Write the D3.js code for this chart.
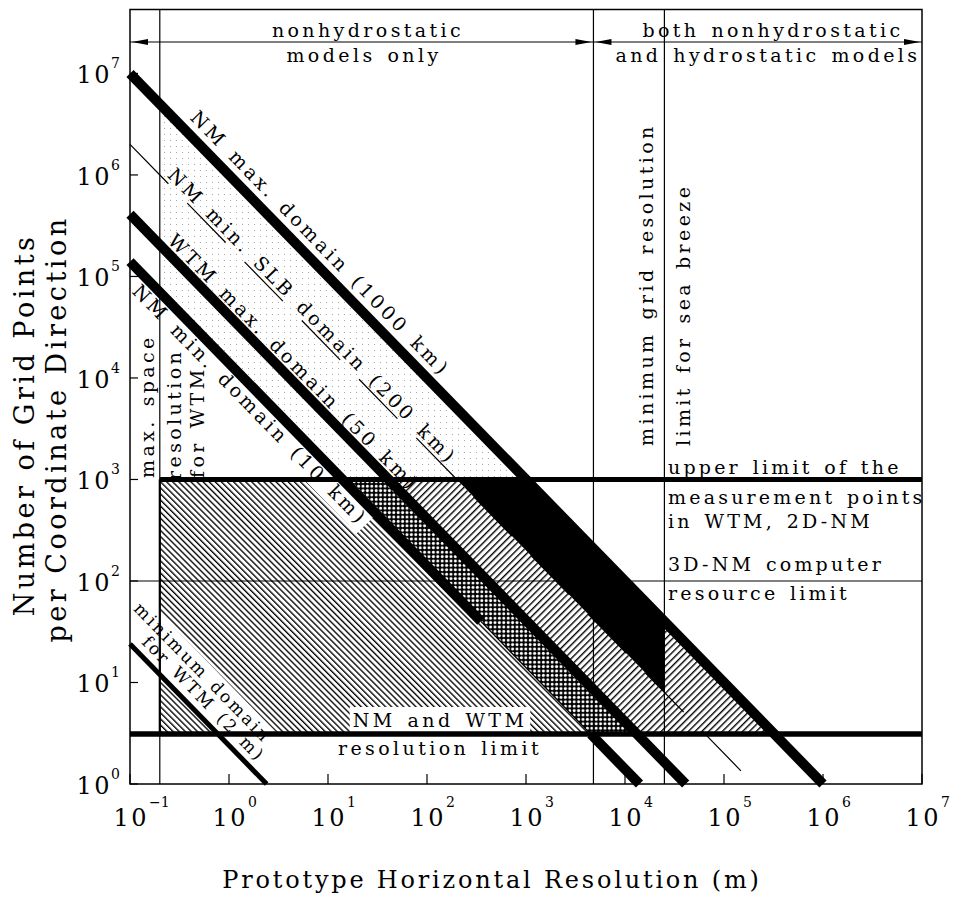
<!DOCTYPE html>
<html>
<head>
<meta charset="utf-8">
<script src="https://cdn.jsdelivr.net/npm/d3@7"></script>
<style>
    body { margin: 0; background: #fff; }
    svg text { font-family: "DejaVu Serif", serif; fill: #000; }
</style>
</head>
<body>
<div id="chart"></div>
<script>
// ---- values ----
const xExponents = [-1, 0, 1, 2, 3, 4, 5, 6, 7];
const yExponents = [0, 1, 2, 3, 4, 5, 6, 7];

// domain lines: N = L / dx  (L in metres)
const domainNames = ["WTM min", "NM min", "WTM max", "NM min SLB", "NM max"];
const domainSizes = [2.4, 1.4e4, 4.1e4, 2e5, 1e6];
const domainLabels = [
    ["minimum domain", "for WTM (2 m)"],
    ["NM min. domain (10 km)"],
    ["WTM max. domain (50 km)"],
    ["NM min. SLB domain (200 km)"],
    ["NM max. domain (1000 km)"]
];

// vertical limits (grid resolution, m)
const resolutionLimits = [0.2, 4.8e3, 2.5e4];
const resolutionLabels = [
    ["max. space", "resolution", "for WTM"],
    ["minimum grid resolution"],
    ["limit for sea breeze"]
];

// horizontal limits (grid points)
const pointLimits = [3.1, 100, 1000];
const pointLabels = [
    ["NM and WTM", "resolution limit"],
    ["3D-NM computer", "resource limit"],
    ["upper limit of the", "measurement points", "in WTM, 2D-NM"]
];

const regimeLabels = [
    ["nonhydrostatic", "models only"],
    ["both nonhydrostatic", "and hydrostatic models"]
];

// ---- setup ----
const width = 962, height = 898;
const x = d3.scaleLog().domain([0.1, 1e7]).range([130, 922]);
const y = d3.scaleLog().domain([1, Math.pow(10, 7.63)]).range([784, 9.5]);
const [plotLeft, plotRight] = x.range();
const [plotBottom, plotTop] = y.range();

const svg = d3.select("#chart").append("svg")
    .attr("width", width)
    .attr("height", height);
const defs = svg.append("defs");

// helpers: points on the N = L/dx lines
const pt = (dx, n) => [x(dx), y(n)];
const onLine = (i, dx) => pt(dx, domainSizes[i] / dx);
const atN = (i, n) => pt(domainSizes[i] / n, n);
// pixel angle of a slope -1 line
const ang = Math.atan2(y(1) - y(10), x(10) - x(1));
const angDeg = ang * 180 / Math.PI;

// ---- patterns ----
function hatch(id, size, angle, w) {
    const p = defs.append("pattern").attr("id", id)
        .attr("patternUnits", "userSpaceOnUse")
        .attr("width", size).attr("height", size)
        .attr("patternTransform", `rotate(${angle})`);
    p.append("rect").attr("width", size).attr("height", size).attr("fill", "#fff");
    p.append("rect").attr("width", w).attr("height", size).attr("fill", "#000");
}
hatch("back", 4.3, -45, 1.35);
hatch("fwd", 4.8, 45, 1.4);

const dots = defs.append("pattern").attr("id", "dots")
    .attr("patternUnits", "userSpaceOnUse").attr("width", 6).attr("height", 6);
dots.append("rect").attr("width", 6).attr("height", 6).attr("fill", "#fff");
dots.append("rect").attr("x", 2).attr("y", 2).attr("width", 1).attr("height", 1).attr("fill", "#a8a8a8");

const mesh = defs.append("pattern").attr("id", "mesh")
    .attr("patternUnits", "userSpaceOnUse").attr("width", 4.4).attr("height", 4.4);
mesh.append("rect").attr("width", 4.4).attr("height", 4.4).attr("fill", "#000");
mesh.append("circle").attr("cx", 2.2).attr("cy", 2.2).attr("r", 1.5).attr("fill", "#fff");

// ---- shaded regions ----
const [vMin, vGrid, vSea] = resolutionLimits;
const [nLow, nMid, nTop] = pointLimits;

const regions = [
    { fill: "url(#dots)", pts: [onLine(1, vMin), onLine(4, vMin), atN(4, nTop), atN(1, nTop)] },
    { fill: "url(#back)", pts: [pt(vMin, nTop), atN(1, nTop), atN(1, nLow), pt(vMin, nLow)] },
    { fill: "url(#mesh)", pts: [atN(1, nTop), atN(2, nTop), atN(2, nLow), atN(1, nLow)] },
    { fill: "url(#fwd)", pts: [atN(2, nTop), atN(3, nTop), onLine(3, vSea), onLine(4, vSea), atN(4, nLow), atN(2, nLow)] },
    { fill: "#000", pts: [atN(3, nTop), atN(4, nTop), onLine(4, vSea), onLine(3, vSea)] }
];

svg.append("g").selectAll("path")
    .data(regions)
    .join("path")
    .attr("d", d => d3.line()(d.pts) + "Z")
    .attr("fill", d => d.fill);

const bgLayer = svg.append("g");
const lineLayer = svg.append("g");
const textLayer = svg.append("g");

// ---- labels along the domain lines (layout: start log10(dx), perpendicular offset px) ----
const labelLayout = [
    [{ u: -1.16, d: 26 }, { u: -0.95, d: 8.5 }],
    [{ u: -0.84, d: -20.5 }],
    [{ u: -0.68, d: 7 }],
    [{ u: -0.66, d: 4 }],
    [{ u: -0.48, d: 11 }]
];
const labelBg = [true, true, false, false, false];

domainLabels.forEach((lines, i) => {
    lines.forEach((txt, j) => {
        const lay = labelLayout[i][j];
        const f = onLine(i, Math.pow(10, lay.u));
        const px = f[0] + lay.d * Math.sin(ang);
        const py = f[1] - lay.d * Math.cos(ang);
        const tr = `translate(${px},${py}) rotate(${angDeg})`;
        const t = textLayer.append("text")
            .attr("transform", tr)
            .attr("font-size", i === 0 ? 17 : 19)
            .style("letter-spacing", i === 0 ? "2.5px" : "3.4px")
            .style("word-spacing", "2.5px")
            .text(txt);
        if (labelBg[i]) {
            const b = t.node().getBBox();
            bgLayer.append("rect")
                .attr("transform", tr)
                .attr("x", b.x - 3).attr("y", b.y - 1)
                .attr("width", b.width + 6).attr("height", b.height + 4)
                .attr("fill", "#fff");
        }
    });
});

// "NM and WTM / resolution limit" with a white box behind the first line
const nmText = textLayer.append("text")
    .attr("x", 440).attr("y", 727)
    .attr("text-anchor", "middle")
    .attr("font-size", 19)
    .style("letter-spacing", "3.4px").style("word-spacing", "2.5px")
    .text(pointLabels[0][0]);
const nb = nmText.node().getBBox();
bgLayer.append("rect").attr("x", nb.x - 3).attr("y", nb.y - 2)
    .attr("width", nb.width + 6).attr("height", nb.height + 4).attr("fill", "#fff");
textLayer.append("text")
    .attr("x", 440).attr("y", 755)
    .attr("text-anchor", "middle")
    .attr("font-size", 19)
    .style("letter-spacing", "3.4px").style("word-spacing", "2.5px")
    .text(pointLabels[0][1]);

// ---- limit lines ----
lineLayer.selectAll("line.vlim")
    .data(resolutionLimits)
    .join("line")
    .attr("class", "vlim")
    .attr("x1", d => x(d)).attr("x2", d => x(d))
    .attr("y1", plotTop).attr("y2", plotBottom)
    .attr("stroke", "#000").attr("stroke-width", 1.2);
// border of the hatched area at 0.2 m
lineLayer.append("line")
    .attr("x1", x(vMin)).attr("x2", x(vMin))
    .attr("y1", y(nTop)).attr("y2", y(nLow))
    .attr("stroke", "#000").attr("stroke-width", 2.2);

lineLayer.append("line")
    .attr("x1", plotLeft).attr("x2", plotRight)
    .attr("y1", y(nMid)).attr("y2", y(nMid))
    .attr("stroke", "#000").attr("stroke-width", 1.2);
lineLayer.append("line")
    .attr("x1", x(vMin)).attr("x2", plotRight)
    .attr("y1", y(nTop)).attr("y2", y(nTop))
    .attr("stroke", "#000").attr("stroke-width", 5);
lineLayer.append("line")
    .attr("x1", plotLeft).attr("x2", plotRight)
    .attr("y1", y(nLow)).attr("y2", y(nLow))
    .attr("stroke", "#000").attr("stroke-width", 5.5);

// SLB line: thin, broken
lineLayer.append("path")
    .attr("d", d3.line()([onLine(3, 0.1), atN(3, 1)]))
    .attr("stroke", "#000").attr("stroke-width", 1.2)
    .attr("stroke-dasharray", "55,27").attr("fill", "none");

// thick domain lines
const nmMinFaint = [40, nLow]; // NM min line is printed thin across this N range
const thickSegs = [
    { pts: [onLine(0, 0.1), atN(0, 1)], w: 5 },
    { pts: [onLine(1, 0.1), atN(1, nmMinFaint[0])], w: 10 },
    { pts: [atN(1, nmMinFaint[0]), atN(1, nmMinFaint[1])], w: 1.4 },
    { pts: [atN(1, nmMinFaint[1]), atN(1, 1)], w: 10 },
    { pts: [onLine(2, 0.1), atN(2, 1)], w: 10 },
    { pts: [onLine(4, 0.1), atN(4, 1)], w: 10 }
];
lineLayer.selectAll("path.dom")
    .data(thickSegs)
    .join("path")
    .attr("class", "dom")
    .attr("d", d => d3.line()(d.pts))
    .attr("stroke", "#000")
    .attr("stroke-width", d => d.w)
    .attr("fill", "none");

// ---- regime arrows at the top ----
const arrowY = 42;
lineLayer.append("line")
    .attr("x1", plotLeft).attr("x2", plotRight)
    .attr("y1", arrowY).attr("y2", arrowY)
    .attr("stroke", "#000").attr("stroke-width", 1.2);
const heads = [[plotLeft, -1], [x(vGrid), 1], [x(vGrid), -1], [plotRight, 1]];
lineLayer.selectAll("path.head")
    .data(heads)
    .join("path")
    .attr("class", "head")
    .attr("d", ([hx, dir]) => {
        const tip = hx - dir * 2;
        return `M${tip},${arrowY} L${tip - dir * 16},${arrowY - 3} L${tip - dir * 16},${arrowY + 3}Z`;
    })
    .attr("fill", "#000");

textLayer.selectAll("text.regime")
    .data([
        { t: regimeLabels[0][0], x: 368, y: 37 },
        { t: regimeLabels[0][1], x: 364, y: 62 },
        { t: regimeLabels[1][0], x: 773, y: 37 },
        { t: regimeLabels[1][1], x: 768, y: 62 }
    ])
    .join("text")
    .attr("class", "regime")
    .attr("x", d => d.x).attr("y", d => d.y)
    .attr("text-anchor", "middle")
    .attr("font-size", 19)
    .style("letter-spacing", "3.4px").style("word-spacing", "2.5px")
    .text(d => d.t);

// ---- labels on the right ----
const rightText = [
    { t: pointLabels[2][0], y: 474 },
    { t: pointLabels[2][1], y: 504 },
    { t: pointLabels[2][2], y: 528 },
    { t: pointLabels[1][0], y: 571 },
    { t: pointLabels[1][1], y: 600 }
];
textLayer.selectAll("text.right")
    .data(rightText)
    .join("text")
    .attr("class", "right")
    .attr("x", 668).attr("y", d => d.y)
    .attr("font-size", 19)
    .style("letter-spacing", "3.2px").style("word-spacing", "2.5px")
    .text(d => d.t);

// ---- vertical labels ----
const vertText = [
    { t: resolutionLabels[0][0], x: 154, y: 478 },
    { t: resolutionLabels[0][1], x: 181, y: 480 },
    { t: resolutionLabels[0][2], x: 204, y: 478 },
    { t: resolutionLabels[1][0], x: 653, y: 446 },
    { t: resolutionLabels[2][0], x: 690, y: 446 }
];
textLayer.selectAll("text.vert")
    .data(vertText)
    .join("text")
    .attr("class", "vert")
    .attr("transform", d => `translate(${d.x},${d.y}) rotate(-90)`)
    .attr("font-size", 19)
    .style("letter-spacing", "3.4px").style("word-spacing", "2.5px")
    .text(d => d.t);

// ---- frame and ticks ----
svg.append("rect")
    .attr("x", plotLeft).attr("y", plotTop)
    .attr("width", plotRight - plotLeft).attr("height", plotBottom - plotTop)
    .attr("fill", "none").attr("stroke", "#000").attr("stroke-width", 1.5);

svg.append("g").selectAll("line")
    .data(yExponents)
    .join("line")
    .attr("x1", plotLeft).attr("x2", plotLeft + 8)
    .attr("y1", d => y(Math.pow(10, d))).attr("y2", d => y(Math.pow(10, d)))
    .attr("stroke", "#000").attr("stroke-width", 1.2);

svg.append("g").selectAll("line")
    .data(xExponents)
    .join("line")
    .attr("x1", d => x(Math.pow(10, d))).attr("x2", d => x(Math.pow(10, d)))
    .attr("y1", plotBottom).attr("y2", plotBottom - 10)
    .attr("stroke", "#000").attr("stroke-width", 1.2);

const expText = e => (e < 0 ? "\u2212" + (-e) : String(e));

// y tick labels
const yLab = svg.append("g").selectAll("g")
    .data(yExponents)
    .join("g")
    .attr("transform", d => `translate(0,${y(Math.pow(10, d))})`);
yLab.append("text")
    .attr("x", 112).attr("y", 10)
    .attr("text-anchor", "end")
    .attr("font-size", 24)
    .style("letter-spacing", "2.5px")
    .text("10");
yLab.append("text")
    .attr("x", 111).attr("y", -5)
    .attr("font-size", 14)
    .text(d => expText(d));

// x tick labels
const xLab = svg.append("g").selectAll("g")
    .data(xExponents)
    .join("g")
    .attr("transform", d => `translate(${x(Math.pow(10, d))},0)`);
xLab.append("text")
    .attr("x", 1.2).attr("y", 826)
    .attr("text-anchor", "middle")
    .attr("font-size", 24)
    .style("letter-spacing", "2.5px")
    .text("10");
xLab.append("text")
    .attr("x", 19).attr("y", 807)
    .attr("font-size", 14)
    .text(d => expText(d));

// axis titles
svg.append("text")
    .attr("x", 492).attr("y", 888)
    .attr("text-anchor", "middle")
    .attr("font-size", 24)
    .style("letter-spacing", "2.8px")
    .text("Prototype Horizontal Resolution (m)");

svg.append("text")
    .attr("transform", "translate(34,425) rotate(-90)")
    .attr("text-anchor", "middle")
    .attr("font-size", 27)
    .style("letter-spacing", "3.5px")
    .text("Number of Grid Points");
svg.append("text")
    .attr("transform", "translate(66,429) rotate(-90)")
    .attr("text-anchor", "middle")
    .attr("font-size", 27)
    .style("letter-spacing", "3.5px")
    .text("per Coordinate Direction");
</script>
</body>
</html>
